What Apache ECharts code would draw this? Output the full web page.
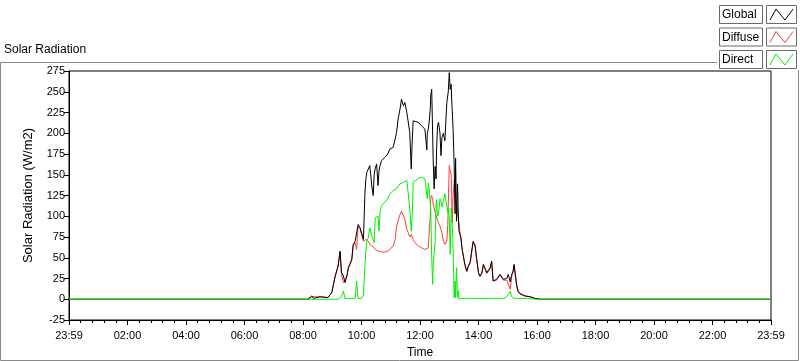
<!DOCTYPE html>
<html>
<head>
<meta charset="utf-8">
<script src="https://cdn.jsdelivr.net/npm/echarts@6/dist/echarts.min.js"></script>
<style>
  html, body { margin: 0; padding: 0; background: #fff; }
  #chart { width: 800px; height: 361px; }
</style>
</head>
<body>
<div id="chart"></div>
<script>
// time of day in minutes (0 = 23:59 of the previous day, 1440 = 23:59)
const timeMinutes = [
  0, 490, 498, 502, 505, 515, 531, 539, 546, 552,
  556, 559, 563, 566, 570, 573, 576, 580, 583, 587,
  590, 593, 597, 600, 604, 607, 609, 611, 614, 617,
  619, 621, 624, 626, 628, 631, 634, 636, 638, 641,
  648, 654, 658, 665, 669, 672, 675, 679, 682, 686,
  689, 693, 696, 699, 702, 704, 706, 710, 717, 723,
  730, 734, 735, 737, 739, 741, 742, 744, 746, 747,
  749, 751, 753, 754, 756, 758, 761, 763, 765, 768,
  771, 775, 777, 778, 780, 782, 784, 785, 786, 788,
  790, 792, 793, 795, 797, 799, 800, 802, 804, 806,
  809, 812, 816, 819, 823, 826, 829, 833, 836, 840,
  843, 847, 850, 853, 857, 860, 864, 867, 870, 874,
  877, 881, 884, 888, 891, 894, 898, 901, 905, 908,
  911, 913, 918, 921, 925, 935, 946, 956, 966, 1440
];

const globalValues = [
  0, 0, 4, 1, 3, 3, 2, 8, 28, 40,
  58, 32, 28, 20, 28, 38, 36, 48, 66, 70,
  80, 90, 86, 88, 72, 127, 145, 153, 157, 161,
  150, 137, 125, 150, 157, 163, 137, 155, 161, 167,
  171, 175, 181, 183, 193, 201, 217, 229, 241, 233,
  237, 225, 225, 201, 157, 190, 215, 217, 213, 209,
  205, 180, 200, 205, 215, 229, 245, 253, 255, 169,
  133, 160, 145, 180, 209, 213, 200, 173, 195, 200,
  191, 237, 235, 250, 273, 253, 259, 240, 229, 203,
  163, 103, 170, 94, 139, 94, 82, 80, 74, 62,
  52, 42, 34, 40, 45, 58, 70, 65, 50, 32,
  28, 32, 42, 38, 32, 30, 38, 46, 22, 22,
  24, 26, 30, 28, 24, 22, 25, 30, 21, 30,
  34, 42, 18, 10, 7, 4, 3, 1, 0, 0
];

const diffuseValues = [
  0, 0, 3, 1, 3, 3, 2, 8, 27, 40,
  57, 30, 20, 20, 28, 37, 35, 47, 65, 68,
  60, 88, 85, 86, 70, 70, 72, 72, 70, 66,
  65, 64, 63, 62, 60, 58, 58, 58, 57, 57,
  57, 58, 60, 64, 72, 88, 95, 102, 106, 104,
  96, 84, 80, 75, 78, 76, 72, 68, 64, 62,
  60, 58, 58, 62, 82, 100, 121, 125, 120, 115,
  110, 110, 100, 100, 95, 92, 88, 84, 80, 70,
  66, 70, 90, 115, 161, 155, 150, 125, 92, 125,
  143, 137, 120, 113, 105, 96, 92, 80, 74, 62,
  51, 41, 33, 39, 44, 56, 68, 64, 49, 31,
  27, 31, 41, 37, 31, 30, 37, 45, 22, 21,
  23, 25, 29, 27, 23, 21, 23, 24, 12, 27,
  33, 41, 17, 9, 6, 4, 3, 1, 0, 0
];

const directValues = [
  0, 0, 0, 0, 0, 0, 0, 0, 0, 0,
  1, 3, 10, 1, 1, 1, 1, 1, 1, 1,
  22, 1, 0, 1, 5, 42, 58, 70, 74, 86,
  82, 76, 72, 68, 98, 100, 100, 82, 105, 113,
  117, 121, 127, 131, 133, 133, 136, 139, 140, 141,
  140, 143, 145, 110, 82, 100, 141, 143, 146, 147,
  145, 143, 121, 140, 132, 115, 110, 50, 18, 40,
  42, 70, 115, 120, 100, 103, 121, 118, 111, 118,
  127, 125, 105, 110, 98, 54, 110, 105, 90, 60,
  2, 22, 2, 38, 2, 10, 0, 0, 1, 1,
  1, 1, 1, 1, 1, 1, 1, 1, 1, 1,
  1, 1, 1, 1, 1, 1, 1, 1, 1, 1,
  1, 1, 1, 1, 1, 1, 2, 6, 10, 3,
  1, 1, 1, 1, 1, 1, 1, 0, 0, 0
];

const xTickLabels = ['23:59', '02:00', '04:00', '06:00', '08:00', '10:00', '12:00',
  '14:00', '16:00', '18:00', '20:00', '22:00', '23:59'];

const seriesNames = ['Global', 'Diffuse', 'Direct'];
const seriesColors = ['#000000', '#ff3c3c', '#00f000'];
// drawing order: diffuse under global, direct on top
const seriesZ = [3, 2, 4];

const FONT = 'Liberation Sans';
const pairs = vals => timeMinutes.map((t, i) => [t, vals[i]]);

// LabVIEW style legend: text box + zigzag icon box per plot
const legendGraphics = [];
seriesNames.forEach((name, i) => {
  const y0 = 5 + i * 22.5;
  legendGraphics.push(
    { type: 'rect', shape: { x: 719.5, y: y0 + 0.5, width: 43, height: 18 },
      style: { fill: '#fff', stroke: '#6a6a6a', lineWidth: 1 } },
    { type: 'text', x: 722, y: y0 + 10,
      style: { text: name, fill: '#000', font: '12px "' + FONT + '"', verticalAlign: 'middle' } },
    { type: 'rect', shape: { x: 766.5, y: y0 + 0.5, width: 30, height: 18 },
      style: { fill: '#fff', stroke: '#6a6a6a', lineWidth: 1 } },
    { type: 'polyline',
      shape: { points: [[770, y0 + 15], [776, y0 + 4], [785, y0 + 15], [793, y0 + 4]] },
      style: { stroke: seriesColors[i], lineWidth: 1, fill: null } }
  );
});

const chart = echarts.init(document.getElementById('chart'), null, { renderer: 'canvas' });

chart.setOption({
  animation: false,
  backgroundColor: '#fff',
  textStyle: { fontFamily: FONT, color: '#000' },
  title: {
    text: 'Solar Radiation', left: 4, top: 44, padding: 0,
    textStyle: { fontSize: 12, fontWeight: 'normal', color: '#000', fontFamily: FONT }
  },
  grid: {
    left: 69, right: 29, top: 71, bottom: 41,
    show: true, borderColor: '#000', borderWidth: 1, backgroundColor: '#fff',
    outerBoundsMode: 'none'
  },
  xAxis: {
    type: 'value', min: 0, max: 1440, interval: 120,
    name: 'Time', nameLocation: 'middle', nameGap: 27,
    nameTextStyle: { fontSize: 12, color: '#000', fontFamily: FONT },
    axisLine: { show: true, onZero: false, lineStyle: { color: '#000', width: 1 } },
    axisTick: { show: true, length: 5, lineStyle: { color: '#000' } },
    minorTick: { show: true, splitNumber: 5, length: 3, lineStyle: { color: '#000' } },
    splitLine: { show: false },
    axisLabel: {
      fontSize: 11, color: '#000', margin: 10, fontFamily: FONT,
      formatter: v => xTickLabels[Math.round(v / 120)]
    }
  },
  yAxis: {
    type: 'value', min: -25, max: 275, interval: 25,
    name: 'Solar Radiation (W/m2)', nameLocation: 'middle', nameGap: 34,
    nameTextStyle: { fontSize: 13, color: '#000', fontFamily: FONT },
    axisLine: { show: true, lineStyle: { color: '#000', width: 1 } },
    axisTick: { show: true, length: 5, lineStyle: { color: '#000' } },
    splitLine: { show: false },
    axisLabel: { fontSize: 11, color: '#000', margin: 4, fontFamily: FONT }
  },
  series: [
    { name: 'Global', type: 'line', data: pairs(globalValues) },
    { name: 'Diffuse', type: 'line', data: pairs(diffuseValues) },
    { name: 'Direct', type: 'line', data: pairs(directValues) }
  ].map((s, i) => Object.assign(s, {
    showSymbol: false, symbol: 'none', z: seriesZ[i],
    lineStyle: { color: seriesColors[i], width: 1 },
    itemStyle: { color: seriesColors[i] }
  })),
  graphic: [
    // outer frame (top edge stops at the legend)
    { type: 'polyline', silent: true,
      shape: { points: [[717, 62.5], [0.5, 62.5], [0.5, 360.5], [798.5, 360.5], [798.5, 70]] },
      style: { stroke: '#8a8a8a', lineWidth: 1, fill: null } }
  ].concat(legendGraphics)
});
</script>
</body>
</html>
